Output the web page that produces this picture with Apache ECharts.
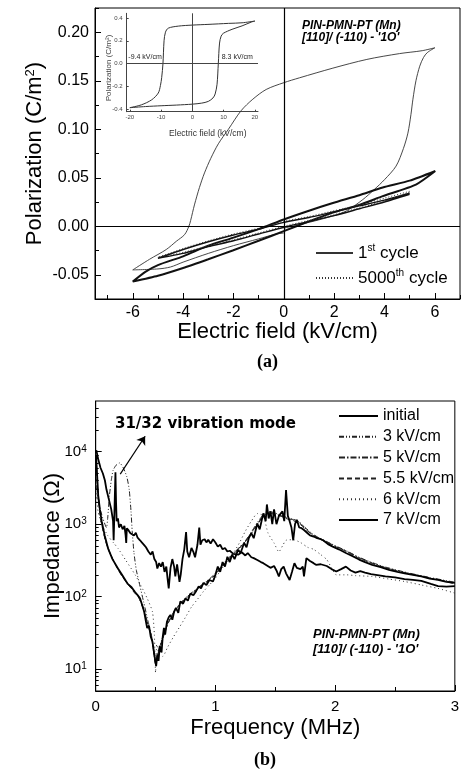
<!DOCTYPE html>
<html><head><meta charset="utf-8">
<script src="https://cdn.jsdelivr.net/npm/echarts@6/dist/echarts.min.js"></script>
<style>html,body{margin:0;padding:0;background:#fff}#c{width:462px;height:773px}</style>
</head><body><div id="c"></div>
<script>
// ---------- Panel (a): P-E loops ----------
const aXMajorTicks = [-6, -4, -2, 0, 2, 4, 6];
const aXMinorTicks = [-7, -5, -3, -1, 1, 3, 5, 7];
const aYMajorTicks = [-0.05, 0, 0.05, 0.1, 0.15, 0.2];
const aYMinorTicks = [-0.075, -0.025, 0.025, 0.075, 0.125, 0.175, 0.225];
const aFirstCycle = [[0,-0.002],[1,0.004],[2,0.011],[2.5,0.016],[3.14,0.0275],[3.6,0.038],[4.0,0.048],[4.46,0.062],[4.75,0.08],[4.93,0.096],[5.05,0.115],[5.13,0.131],[5.25,0.15],[5.4,0.165],[5.55,0.174],[5.7,0.179],[6.0,0.184],[5.5,0.181],[4.6,0.178],[3.3,0.172],[1.95,0.163],[0.62,0.153],[0,0.148],[-0.7,0.141],[-1.23,0.131],[-1.7,0.119],[-2.2,0.1],[-2.6,0.085],[-2.9,0.07],[-3.15,0.055],[-3.35,0.04],[-3.55,0.022],[-3.7,0.006],[-3.77,0],[-3.94,-0.0086],[-4.27,-0.0155],[-4.67,-0.024],[-5.33,-0.034],[-6.0,-0.045],[-5.0,-0.044],[-4.5,-0.042],[-4,-0.037],[-3,-0.028],[-2,-0.02],[-1,-0.013],[-0.3,-0.008],[0,-0.007]];
const aLoop6 = [[6.02,0.057],[5,0.047],[3.93,0.040],[3,0.032],[1.95,0.024],[1,0.016],[0,0.007],[-1,-0.003],[-2.03,-0.012],[-3,-0.02],[-4,-0.031],[-5,-0.04],[-5.5,-0.047],[-6,-0.057],[-5,-0.051],[-4,-0.043],[-3,-0.034],[-2.03,-0.025],[-1,-0.015],[0,-0.005],[1,0.005],[1.95,0.014],[3,0.022],[3.93,0.031],[5.25,0.043],[6.02,0.057]];
const aLoop5 = [[5,0.034],[4,0.027],[3,0.021],[2,0.015],[1,0.009],[0,0.004],[-1,-0.003],[-2,-0.009],[-3,-0.016],[-4,-0.024],[-5,-0.033],[-4,-0.028],[-3,-0.021],[-2,-0.015],[-1,-0.008],[0,-0.001],[1,0.005],[2,0.011],[3,0.018],[4,0.025],[5,0.033]];
const a5000Cycle = [[5,0.036],[4,0.029],[3,0.022],[2,0.016],[1,0.01],[0,0.005],[-1,-0.002],[-2,-0.008],[-3,-0.015],[-4,-0.023],[-5,-0.032],[-4,-0.027],[-3,-0.02],[-2,-0.014],[-1,-0.007],[0,0],[1,0.006],[2,0.012],[3,0.019],[4,0.026],[5,0.035]];
// inset
const insetXTicks = [-20, -10, 0, 10, 20];
const insetYTicks = [-0.4, -0.2, 0, 0.2, 0.4];
const insetLoop = [[20,0.372],[15.9,0.357],[11.6,0.352],[5,0.343],[0,0.337],[-4.5,0.328],[-7.7,0.31],[-8.6,0.275],[-9.05,0.2],[-9.4,0],[-9.8,-0.12],[-10.2,-0.19],[-10.9,-0.257],[-13,-0.316],[-16.3,-0.36],[-20,-0.385],[-15,-0.375],[-10,-0.368],[-5,-0.362],[0,-0.354],[3,-0.345],[5.1,-0.33],[6.6,-0.3],[7.3,-0.265],[7.9,-0.18],[8.3,0],[8.7,0.18],[9.2,0.24],[9.9,0.265],[12.7,0.30],[15.9,0.33],[19,0.365],[20,0.372]];

// ---------- Panel (b): impedance spectra ----------
const bYMajorTicks = [10, 100, 1000, 10000];
const bYMinorTicks = [6,7,8,9,20,30,40,50,60,70,80,90,200,300,400,500,600,700,800,900,2000,3000,4000,5000,6000,7000,8000,9000,20000,30000,40000];
const bInitial = [[0.005,10500],[0.02,8000],[0.04,6000],[0.06,5000],[0.077,4000],[0.09,3000],[0.11,2200],[0.13,1600],[0.145,1100],[0.15,600],[0.155,1200],[0.165,5200],[0.17,2000],[0.175,1100],[0.186,1200],[0.195,900],[0.21,1000],[0.225,850],[0.24,950],[0.25,700],[0.255,550],[0.26,880],[0.275,820],[0.29,750],[0.3,790],[0.32,700],[0.335,760],[0.35,650],[0.37,600],[0.385,560],[0.405,515],[0.42,480],[0.44,420],[0.46,380],[0.475,420],[0.49,330],[0.505,300],[0.515,245],[0.53,290],[0.545,260],[0.56,300],[0.575,220],[0.59,260],[0.6,180],[0.61,130],[0.625,250],[0.64,330],[0.655,260],[0.665,190],[0.68,280],[0.7,160],[0.71,200],[0.725,330],[0.74,450],[0.755,780],[0.765,420],[0.78,350],[0.8,470],[0.816,415],[0.83,350],[0.85,520],[0.865,900],[0.875,520],[0.89,600],[0.91,620],[0.925,560],[0.94,610],[0.96,540],[0.98,620],[1.0,560],[1.02,490],[1.04,520],[1.06,450],[1.08,470],[1.1,420],[1.12,430],[1.15,390],[1.19,380],[1.22,410],[1.25,370],[1.27,400],[1.3,350],[1.32,340],[1.35,320],[1.38,300],[1.4,290],[1.43,270],[1.46,250],[1.49,265],[1.51,230],[1.53,190],[1.55,240],[1.57,260],[1.59,210],[1.62,170],[1.64,220],[1.66,290],[1.68,250],[1.71,240],[1.73,260],[1.74,190],[1.76,340],[1.79,310],[1.82,290],[1.84,275],[1.88,280],[1.93,265],[1.97,240],[2.01,222],[2.05,240],[2.09,260],[2.13,230],[2.17,215],[2.21,225],[2.25,215],[2.3,205],[2.34,200],[2.38,195],[2.42,190],[2.5,185],[2.58,175],[2.65,170],[2.72,165],[2.8,150],[2.86,140],[2.93,138],[3.0,140]];
const b3kV = [[0.003,3500],[0.03,1800],[0.06,1200],[0.09,900],[0.1,1200],[0.115,2500],[0.13,4000],[0.145,5500],[0.17,6500],[0.2,7000],[0.23,6000],[0.26,4500],[0.28,3000],[0.295,1500],[0.305,800],[0.32,400],[0.34,230],[0.37,140],[0.4,85],[0.44,44],[0.47,27],[0.5,13],[0.52,17],[0.55,25],[0.6,43],[0.65,61],[0.7,79],[0.75,96],[0.8,113],[0.85,131],[0.9,152],[0.95,176],[1.0,210],[1.05,262],[1.1,330],[1.15,395],[1.2,480],[1.25,590],[1.3,780],[1.35,1050],[1.4,1350],[1.45,1500],[1.5,1420],[1.55,1330],[1.6,1230],[1.65,1170],[1.7,1080],[1.75,900],[1.8,760],[1.85,670],[1.9,610],[2.0,505],[2.1,425],[2.2,350],[2.3,300],[2.4,262],[2.5,236],[2.6,215],[2.7,198],[2.8,183],[2.9,170],[3.0,158]];
const b5kV = [[0.003,9500],[0.015,3500],[0.04,1300],[0.08,620],[0.12,400],[0.17,270],[0.22,195],[0.27,150],[0.32,118],[0.36,98],[0.4,68],[0.44,40],[0.47,26],[0.5,12],[0.52,16],[0.55,24],[0.6,42],[0.65,60],[0.7,78],[0.75,95],[0.8,112],[0.85,128],[0.9,150],[0.95,172],[1.0,205],[1.05,255],[1.1,320],[1.15,390],[1.2,470],[1.25,580],[1.3,760],[1.35,1000],[1.4,1300],[1.45,1450],[1.5,1380],[1.55,1300],[1.6,1200],[1.65,1150],[1.7,1050],[1.75,880],[1.8,740],[1.85,660],[1.9,600],[2.0,500],[2.1,420],[2.2,345],[2.3,295],[2.4,258],[2.5,232],[2.6,212],[2.7,195],[2.8,180],[2.9,167],[3.0,155]];
const b55kV = [[0.003,7000],[0.015,3000],[0.04,1200],[0.08,600],[0.12,390],[0.17,265],[0.22,190],[0.27,148],[0.32,115],[0.36,96],[0.4,66],[0.44,39],[0.47,25],[0.5,12],[0.52,15],[0.55,23],[0.6,41],[0.65,59],[0.7,77],[0.75,93],[0.8,110],[0.85,127],[0.9,148],[0.95,170],[1.0,200],[1.05,250],[1.1,315],[1.15,385],[1.2,465],[1.25,570],[1.3,740],[1.35,980],[1.4,1280],[1.45,1420],[1.5,1350],[1.55,1280],[1.6,1180],[1.65,1120],[1.7,1020],[1.75,860],[1.8,730],[1.85,650],[1.9,590],[2.0,495],[2.1,415],[2.2,340],[2.3,292],[2.4,255],[2.5,230],[2.6,210],[2.7,193],[2.8,178],[2.9,165],[3.0,150]];
const b6kV = [[0.003,3000],[0.02,1490],[0.05,1000],[0.1,700],[0.15,550],[0.186,465],[0.25,320],[0.33,200],[0.38,140],[0.43,95],[0.474,62],[0.49,30],[0.5,9],[0.51,22],[0.53,16],[0.56,15],[0.6,20],[0.65,28],[0.7,38],[0.75,52],[0.8,72],[0.85,92],[0.9,118],[0.95,145],[1.0,180],[1.05,240],[1.1,300],[1.15,400],[1.2,550],[1.25,800],[1.3,1100],[1.35,1400],[1.4,1300],[1.44,750],[1.49,550],[1.53,415],[1.56,500],[1.59,600],[1.65,610],[1.71,560],[1.77,480],[1.82,450],[1.88,380],[1.93,325],[1.97,250],[2.01,200],[2.1,200],[2.17,195],[2.31,190],[2.45,175],[2.58,162],[2.72,145],[2.86,130],[3.0,112]];
const b7kV = [[0.003,9000],[0.01,5500],[0.021,2500],[0.035,1600],[0.05,1100],[0.075,700],[0.103,465],[0.14,330],[0.186,245],[0.22,200],[0.268,150],[0.3,135],[0.33,115],[0.35,105],[0.37,95],[0.39,75],[0.405,62],[0.42,45],[0.43,37],[0.445,40],[0.46,28],[0.474,24],[0.485,18],[0.495,14],[0.505,11],[0.515,16],[0.525,13],[0.535,21],[0.55,17],[0.56,28],[0.57,37],[0.58,30],[0.595,45],[0.61,52],[0.624,56],[0.64,48],[0.655,62],[0.67,70],[0.69,60],[0.707,86],[0.73,80],[0.75,95],[0.77,88],[0.79,110],[0.816,105],[0.84,120],[0.86,138],[0.88,130],[0.9,155],[0.925,145],[0.95,170],[0.98,162],[1.0,200],[1.02,260],[1.04,220],[1.06,300],[1.08,260],[1.1,355],[1.12,300],[1.14,380],[1.16,330],[1.19,445],[1.21,400],[1.24,550],[1.26,480],[1.28,650],[1.3,750],[1.32,640],[1.35,1020],[1.37,850],[1.4,1410],[1.42,1100],[1.43,1870],[1.445,1200],[1.46,1500],[1.475,1000],[1.49,1600],[1.51,1000],[1.53,1300],[1.56,1500],[1.575,1100],[1.59,2950],[1.605,1300],[1.62,1100],[1.635,900],[1.65,600],[1.665,1000],[1.68,1150],[1.7,900],[1.72,880],[1.74,830],[1.77,750],[1.79,700],[1.82,675],[1.85,640],[1.88,620],[1.9,600],[1.94,530],[1.98,490],[2.03,450],[2.09,400],[2.15,360],[2.2,325],[2.25,300],[2.31,275],[2.38,255],[2.45,235],[2.52,220],[2.58,210],[2.65,200],[2.72,190],[2.79,178],[2.86,170],[2.93,160],[3.0,155]];
const arrowStart = [0.205, 4900];
const arrowEnd = [0.413, 16300];

const SANS = 'Liberation Sans, Arial, sans-serif';
const chart = echarts.init(document.getElementById('c'), null, {renderer: 'canvas'});
const sup = (fs) => ({fontSize: fs, verticalAlign: 'top', lineHeight: fs, fontFamily: SANS, color: '#000'});

function minorAxis(gridIndex, min, max, vals, len, type) {
  return {type: type || 'value', gridIndex, min, max,
    axisLine: {show: false, onZero: false}, axisLabel: {show: false}, splitLine: {show: false},
    axisTick: {show: true, inside: true, length: len, customValues: vals, lineStyle: {color: '#000'}}};
}

const option = {
  animation: false,
  backgroundColor: '#fff',
  grid: [
    {left: 95, top: 8, width: 365, height: 291, show: true, borderColor: '#000', borderWidth: 1, backgroundColor: 'transparent'},
    {left: 126.7, top: 13.3, width: 131.3, height: 98.4, show: false},
    {left: 95.7, top: 401, width: 365, height: 290, show: true, borderColor: '#000', borderWidth: 1, backgroundColor: 'transparent'}
  ],
  xAxis: [
    {type: 'value', gridIndex: 0, min: -7.5, max: 7, position: 'bottom',
      name: 'Electric field (kV/cm)', nameLocation: 'middle', nameGap: 22, nameMoveOverlap: false,
      nameTextStyle: {fontFamily: SANS, fontSize: 22, color: '#000'},
      axisLine: {onZero: false, lineStyle: {color: '#000'}}, splitLine: {show: false},
      axisTick: {inside: true, length: 6, customValues: aXMajorTicks, lineStyle: {color: '#000'}},
      axisLabel: {customValues: aXMajorTicks, fontFamily: SANS, fontSize: 16, color: '#000', margin: 6}},
    Object.assign(minorAxis(0, -7.5, 7, aXMinorTicks, 4), {position: 'bottom'}),
    {type: 'value', gridIndex: 1, min: -21, max: 21, position: 'bottom',
      axisLine: {onZero: false, lineStyle: {color: '#444'}}, splitLine: {show: false},
      axisTick: {inside: true, length: 2, customValues: insetXTicks, lineStyle: {color: '#444'}},
      axisLabel: {customValues: insetXTicks, fontFamily: SANS, fontSize: 6, color: '#444', margin: 3}},
    {type: 'value', gridIndex: 2, min: 0, max: 3, interval: 1, position: 'bottom',
      name: 'Frequency (MHz)', nameLocation: 'middle', nameGap: 26, nameMoveOverlap: false,
      nameTextStyle: {fontFamily: SANS, fontSize: 22, color: '#000'},
      axisLine: {onZero: false, lineStyle: {color: '#000'}}, splitLine: {show: false},
      axisTick: {inside: true, length: 6, lineStyle: {color: '#000'}},
      minorTick: {show: true, splitNumber: 2, length: 4, lineStyle: {color: '#000'}},
      axisLabel: {fontFamily: SANS, fontSize: 15, color: '#000', margin: 8, showMaxLabel: true}}
  ],
  yAxis: [
    {type: 'value', gridIndex: 0, min: -0.075, max: 0.225, position: 'left',
      name: 'Polarization (C/m{sup|2})', nameLocation: 'middle', nameGap: 49, nameMoveOverlap: false,
      nameTextStyle: {fontFamily: SANS, fontSize: 22, color: '#000', rich: {sup: sup(13)}},
      axisLine: {onZero: false, lineStyle: {color: '#000'}}, splitLine: {show: false},
      axisTick: {inside: true, length: 6, customValues: aYMajorTicks, lineStyle: {color: '#000'}},
      axisLabel: {customValues: aYMajorTicks, formatter: v => v.toFixed(2), fontFamily: SANS, fontSize: 16, color: '#000', margin: 6}},
    Object.assign(minorAxis(0, -0.075, 0.225, aYMinorTicks, 4), {position: 'left'}),
    {type: 'value', gridIndex: 1, min: -0.42, max: 0.44, position: 'left',
      axisLine: {onZero: false, lineStyle: {color: '#444'}}, splitLine: {show: false},
      axisTick: {inside: true, length: 2, customValues: insetYTicks, lineStyle: {color: '#444'}},
      axisLabel: {customValues: insetYTicks, formatter: v => v.toFixed(1), fontFamily: SANS, fontSize: 6, color: '#444', margin: 4}},
    {type: 'log', logBase: 10, gridIndex: 2, min: 5, max: 50000, position: 'left',
      name: 'Impedance (\u03A9)', nameLocation: 'middle', nameGap: 32, nameMoveOverlap: false,
      nameTextStyle: {fontFamily: SANS, fontSize: 22, color: '#000'},
      axisLine: {onZero: false, lineStyle: {color: '#000'}}, splitLine: {show: false},
      axisTick: {inside: true, length: 6, customValues: bYMajorTicks, lineStyle: {color: '#000'}},
      axisLabel: {customValues: bYMajorTicks, fontFamily: SANS, fontSize: 15, color: '#000', margin: 9,
        formatter: v => '10{sup|' + Math.round(Math.log10(v)) + '}', rich: {sup: sup(10)}}},
    Object.assign(minorAxis(2, 5, 50000, bYMinorTicks, 3, 'log'), {position: 'left', logBase: 10})
  ],
  legend: [
    {left: 315, top: 243, padding: 0, orient: 'vertical', itemWidth: 37, itemHeight: 10, itemGap: 5, selectedMode: false,
      data: ['1st cycle', '5000th cycle'], itemStyle: {opacity: 0},
      formatter: n => n === '1st cycle' ? '1{sup|st} cycle' : '5000{sup|th} cycle',
      textStyle: {fontFamily: SANS, fontSize: 17, color: '#000', lineHeight: 20, rich: {sup: sup(10)}}},
    {left: 338, top: 408, padding: 0, orient: 'vertical', itemWidth: 39, itemHeight: 10, itemGap: 4.8, selectedMode: false,
      data: ['initial', '3 kV/cm', '5 kV/cm', '5.5 kV/cm', '6 kV/cm', '7 kV/cm'], itemStyle: {opacity: 0},
      textStyle: {fontFamily: SANS, fontSize: 16, color: '#000', lineHeight: 16}}
  ],
  series: [
    {name: '1st cycle', type: 'line', xAxisIndex: 0, yAxisIndex: 0, data: aFirstCycle, symbol: 'none', smooth: 0.3,
      lineStyle: {color: '#333', width: 0.9},
      markLine: {silent: true, symbol: 'none', label: {show: false}, lineStyle: {color: '#000', width: 1.2, type: 'solid'},
        data: [{xAxis: 0}, {yAxis: 0}]}},
    {name: 'loop6', type: 'line', xAxisIndex: 0, yAxisIndex: 0, data: aLoop6, symbol: 'none', smooth: 0.2,
      lineStyle: {color: '#111', width: 2}},
    {name: 'loop5', type: 'line', xAxisIndex: 0, yAxisIndex: 0, data: aLoop5, symbol: 'none', smooth: 0.2,
      lineStyle: {color: '#111', width: 1.4}},
    {name: '5000th cycle', type: 'line', xAxisIndex: 0, yAxisIndex: 0, data: a5000Cycle, symbol: 'none', smooth: 0.2,
      lineStyle: {color: '#333', width: 1, type: [1, 2]}},
    {name: 'inset', type: 'line', xAxisIndex: 2, yAxisIndex: 2, data: insetLoop, symbol: 'none', smooth: 0.3,
      lineStyle: {color: '#333', width: 1},
      markLine: {silent: true, symbol: 'none', label: {show: false}, lineStyle: {color: '#444', width: 1, type: 'solid'},
        data: [{xAxis: 0}, {yAxis: 0}]}},
    {name: 'initial', type: 'line', xAxisIndex: 3, yAxisIndex: 3, data: bInitial, symbol: 'none',
      lineStyle: {color: '#000', width: 1.8},
      markLine: {silent: true, symbol: ['none', 'arrow'], symbolSize: 8, label: {show: false},
        lineStyle: {color: '#000', width: 1.2, type: 'solid'},
        data: [[{coord: arrowStart}, {coord: arrowEnd}]]}},
    {name: '3 kV/cm', type: 'line', xAxisIndex: 3, yAxisIndex: 3, data: b3kV, symbol: 'none', smooth: 0.2,
      lineStyle: {color: '#222', width: 1, type: [5, 2, 1, 2, 1, 2]}},
    {name: '5 kV/cm', type: 'line', xAxisIndex: 3, yAxisIndex: 3, data: b5kV, symbol: 'none', smooth: 0.2,
      lineStyle: {color: '#222', width: 1, type: [6, 2, 1.5, 2]}},
    {name: '5.5 kV/cm', type: 'line', xAxisIndex: 3, yAxisIndex: 3, data: b55kV, symbol: 'none', smooth: 0.2,
      lineStyle: {color: '#222', width: 1, type: [5, 3]}},
    {name: '6 kV/cm', type: 'line', xAxisIndex: 3, yAxisIndex: 3, data: b6kV, symbol: 'none', smooth: 0.2,
      lineStyle: {color: '#333', width: 1, type: [1, 3]}},
    {name: '7 kV/cm', type: 'line', xAxisIndex: 3, yAxisIndex: 3, data: b7kV, symbol: 'none',
      lineStyle: {color: '#000', width: 1.8}}
  ],
  graphic: [
    {type: 'text', left: 302, top: 20, style: {text: 'PIN-PMN-PT (Mn)', font: 'italic bold 12px Liberation Sans, Arial', fill: '#000'}},
    {type: 'text', left: 302, top: 32, style: {text: "[110]/ (-110) - '1O'", font: 'italic bold 12px Liberation Sans, Arial', fill: '#000'}},
    {type: 'text', left: 128.3, top: 54, style: {text: '-9.4 kV/cm', font: '7px Liberation Sans, Arial', fill: '#222'}},
    {type: 'text', left: 221.7, top: 54, style: {text: '8.3 kV/cm', font: '7px Liberation Sans, Arial', fill: '#222'}},
    {type: 'text', x: 207.8, y: 133.3, style: {text: 'Electric field (kV/cm)', font: '8.5px Liberation Sans, Arial', fill: '#333', align: 'center', verticalAlign: 'middle'}},
    {type: 'text', x: 109, y: 68, rotation: Math.PI / 2, style: {text: 'Polarization (C/m\u00B2)', font: '8px Liberation Sans, Arial', fill: '#444', align: 'center', verticalAlign: 'middle'}},
    {type: 'text', x: 267.5, y: 362, style: {text: '(a)', font: 'bold 18px Liberation Serif, Times New Roman, serif', fill: '#000', align: 'center', verticalAlign: 'middle'}},
    {type: 'text', x: 265, y: 760, style: {text: '(b)', font: 'bold 18px Liberation Serif, Times New Roman, serif', fill: '#000', align: 'center', verticalAlign: 'middle'}},
    {type: 'text', left: 115, top: 417, style: {text: '31/32 vibration mode', font: 'bold 15px DejaVu Sans, Verdana, sans-serif', fill: '#000'}},
    {type: 'text', left: 313, top: 628, style: {text: 'PIN-PMN-PT (Mn)', font: 'italic bold 13px Liberation Sans, Arial', fill: '#000'}},
    {type: 'text', left: 313, top: 643, style: {text: "[110]/ (-110) - '1O'", font: 'italic bold 13px Liberation Sans, Arial', fill: '#000'}}
  ]
};
chart.setOption(option);
</script></body></html>
